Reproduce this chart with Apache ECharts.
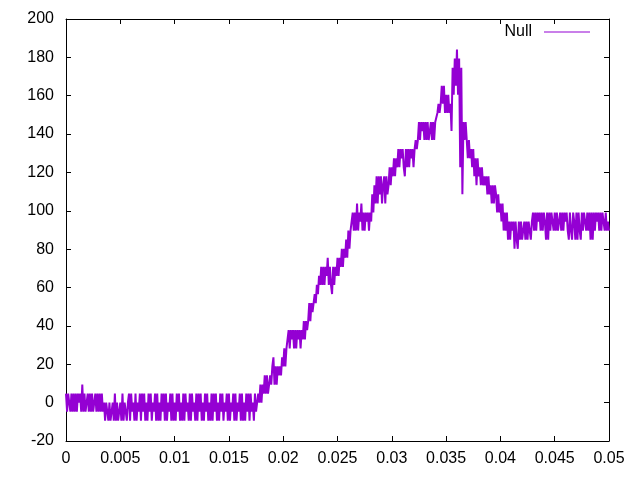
<!DOCTYPE html>
<html>
<head>
<meta charset="utf-8">
<script src="https://cdn.jsdelivr.net/npm/echarts@6/dist/echarts.min.js"></script>
<style>html,body{margin:0;padding:0;background:#fff}#c{width:640px;height:480px}</style>
</head>
<body>
<div id="c"></div>
<script>
// Sampled signal: one value every samplePeriod seconds, starting at t = 0
const seriesName = 'Null';
const samplePeriod = 0.0001;
const values = [
4.7,-4.7,4.7,0,-4.7,4.7,-4.7,4.7,-4.7,4.7,
-4.7,4.7,0,4.7,-4.7,9.4,-4.7,4.7,-4.7,0,
4.7,-4.7,4.7,-4.7,4.7,-4.7,0,4.7,-4.7,4.7,
-4.7,4.7,-4.7,4.7,-4.7,
0,-9.4,0,-4.7,-9.4,0,-9.4,-4.7,0,-9.4,
4.7,-9.4,0,-9.4,-4.7,0,-9.4,4.7,-9.4,0,-4.7,-9.4,0,
4.7,-9.4,4.7,-4.7,0,-9.4,4.7,-9.4,0,-4.7,
4.7,-9.4,4.7,-4.7,4.7,-9.4,0,-9.4,4.7,-4.7,
4.7,-9.4,0,-4.7,4.7,-9.4,4.7,-9.4,0,-9.4,
4.7,-4.7,4.7,-9.4,4.7,-9.4,0,-4.7,4.7,-9.4,
4.7,-9.4,0,-9.4,4.7,-4.7,4.7,-9.4,0,-9.4,
4.7,-9.4,4.7,-4.7,0,-9.4,4.7,-9.4,4.7,-4.7,
0,-9.4,4.7,-9.4,4.7,-4.7,4.7,-9.4,0,-9.4,
4.7,-4.7,4.7,-9.4,0,-9.4,4.7,-9.4,4.7,-4.7,
4.7,-9.4,0,-9.4,4.7,-4.7,4.7,-9.4,0,-4.7,
4.7,-9.4,4.7,-9.4,0,-4.7,4.7,-9.4,4.7,-9.4,
0,-4.7,4.7,-9.4,4.7,-9.4,0,-9.4,4.7,-4.7,
4.7,-9.4,4.7,-4.7,0,-9.4,4.7,-4.7,0,
4.7,0,9.4,0,9.4,4.7,
14.2,4.7,14.2,4.7,9.4,14.2,
9.4,18.9,23.6,9.4,18.9,9.4,18.9,14.2,18.9,
14.2,23.6,18.9,28.3,18.9,28.3,
28.3,37.8,28.3,37.8,33,37.8,28.3,37.8,28.3,37.8,33,37.8,28.3,37.8,
33,42.5,33,42.5,37.8,
42.5,51.9,42.5,51.9,47.2,
51.9,56.6,51.9,61.4,56.6,66.1,61.4,
70.8,61.4,70.8,61.4,70.8,66.1,75.5,61.4,70.8,61.4,56.6,70.8,61.4,70.8,
66.1,75.5,66.1,75.5,70.8,80.2,
70.8,80.2,75.5,85,
75.5,89.7,80.2,89.7,
89.7,99.1,89.7,99.1,89.7,103.8,89.7,99.1,94.4,103.8,89.7,99.1,89.7,99.1,94.4,99.1,89.7,
99.1,94.4,108.6,99.1,113.3,103.8,
118,103.8,118,108.6,118,103.8,113.3,118,103.8,118,108.6,
113.3,122.7,113.3,122.7,
118,127.4,118,127.4,
122.7,132.2,122.7,132.2,127.4,132.2,122.7,118,132.2,122.7,132.2,122.7,132.2,127.4,132.2,122.7,
132.2,136.9,132.2,
136.9,146.3,136.9,146.3,141.6,146.3,136.9,146.3,136.9,146.3,136.9,141.6,146.3,136.9,146.3,136.9,146.3,
146.3,151,155.8,151,
155.8,165.2,155.8,165.2,
151,160.5,151,160.5,
151,155.8,141.6,174.6,
160.5,179.4,165.2,184.1,160.5,179.4,122.7,174.6,108.6,146.3,
136.9,146.3,136.9,
127.4,136.9,127.4,
132.2,122.7,132.2,
118,127.4,113.3,127.4,118,
122.7,113.3,122.7,113.3,118,113.3,
118,108.6,118,108.6,113.3,
103.8,113.3,103.8,113.3,108.6,
99.1,108.6,99.1,
103.8,94.4,103.8,
89.7,99.1,89.7,99.1,
85,94.4,85,94.4,89.7,94.4,80.2,94.4,85,80.2,94.4,85,94.4,85,89.7,94.4,85,94.4,85,94.4,89.7,85,94.4,99.1,
89.7,99.1,89.7,99.1,94.4,99.1,89.7,99.1,89.7,99.1,
94.4,85,99.1,85,99.1,89.7,99.1,94.4,89.7,99.1,
89.7,99.1,89.7,94.4,99.1,89.7,99.1,89.7,99.1,94.4,
99.1,89.7,85,99.1,89.7,85,99.1,94.4,85,99.1,
85,99.1,89.7,85,99.1,89.7,99.1,94.4,89.7,99.1,
89.7,99.1,85,99.1,85,99.1,89.7,99.1,94.4,99.1,
89.7,99.1,89.7,99.1,94.4,89.7,99.1,89.7,94.4,89.7
];
const xMin = 0, xMax = 0.05, xStep = 0.005;
const yMin = -20, yMax = 200, yStep = 20;

const points = values.map((v, i) => [i * samplePeriod, v]);

const font = 'Liberation Sans, Arial, sans-serif';
const axisCommon = {
  type: 'value',
  axisLine: { show: true, onZero: false, lineStyle: { color: '#000', width: 1 } },
  axisTick: { show: true, inside: true, length: 5, lineStyle: { color: '#000' } },
  splitLine: { show: false },
  minorTick: { show: false }
};

const chart = echarts.init(document.getElementById('c'), null, { renderer: 'canvas' });
chart.setOption({
  animation: false,
  backgroundColor: '#fff',
  grid: { left: 66, right: 31, top: 19, bottom: 39 },
  legend: {
    data: [{ name: seriesName, icon: 'rect' }],
    right: 50, top: 24, padding: 0,
    align: 'right',
    itemWidth: 46, itemHeight: 1,
    textStyle: { color: '#000', fontFamily: font, fontSize: 16, padding: [0, 7, 5, 0] }
  },
  xAxis: [
    Object.assign({}, axisCommon, {
      position: 'bottom', min: xMin, max: xMax, interval: xStep,
      axisLabel: { color: '#000', fontFamily: font, fontSize: 16, margin: 10 }
    }),
    Object.assign({}, axisCommon, {
      position: 'top', min: xMin, max: xMax, interval: xStep,
      axisLabel: { show: false }
    })
  ],
  yAxis: [
    Object.assign({}, axisCommon, {
      position: 'left', min: yMin, max: yMax, interval: yStep,
      axisLabel: { color: '#000', fontFamily: font, fontSize: 16, margin: 12 }
    }),
    Object.assign({}, axisCommon, {
      position: 'right', min: yMin, max: yMax, interval: yStep,
      axisLabel: { show: false }
    })
  ],
  series: [{
    name: seriesName,
    type: 'line',
    xAxisIndex: 0, yAxisIndex: 0,
    data: points,
    symbol: 'none',
    showSymbol: false,
    sampling: null,
    lineStyle: { color: '#9400d3', width: 2 },
    itemStyle: { color: '#9400d3' }
  }]
});
</script>
</body>
</html>
